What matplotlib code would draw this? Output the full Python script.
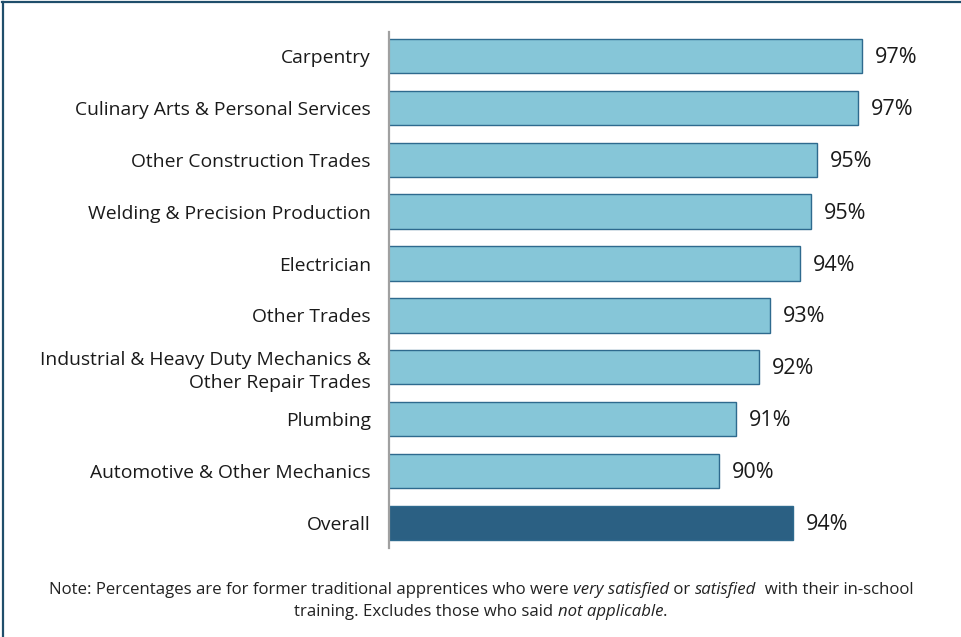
import matplotlib

matplotlib.use("Agg")

import matplotlib.pyplot as plt
from matplotlib.lines import Line2D

plt.rcParams["font.family"] = ["Open Sans", "DejaVu Sans"]

CATEGORIES = [
    "Carpentry",
    "Culinary Arts & Personal Services",
    "Other Construction Trades",
    "Welding & Precision Production",
    "Electrician",
    "Other Trades",
    "Industrial & Heavy Duty Mechanics &\nOther Repair Trades",
    "Plumbing",
    "Automotive & Other Mechanics",
    "Overall",
]
SATISFIED_PCT = [97.1, 96.9, 95.0, 94.7, 94.2, 92.8, 92.3, 91.2, 90.4, 93.9]
BAR_COLORS = ["#86C6D8"] * 9 + ["#2B6083"]

NOTE_LINES = [
    [
        ("Note: Percentages are for former traditional apprentices who were ", "normal"),
        ("very satisfied", "italic"),
        (" or ", "normal"),
        ("satisfied", "italic"),
        ("  with their in-school", "normal"),
    ],
    [
        ("training. Excludes those who said ", "normal"),
        ("not applicable", "italic"),
        (".", "normal"),
    ],
]


def draw_note(fig, lines, y_positions, fontsize=11):
    renderer = fig.canvas.get_renderer()
    fig_w = fig.bbox.width
    for pieces, y in zip(lines, y_positions):
        texts = []
        for txt, style in pieces:
            t = fig.text(0, y, txt, style=style, fontsize=fontsize,
                         color="#222222", va="center", ha="left")
            texts.append(t)
        widths = [t.get_window_extent(renderer).width / fig_w for t in texts]
        x = 0.5 - sum(widths) / 2
        for t, w in zip(texts, widths):
            t.set_x(x)
            x += w


def main():
    fig = plt.figure(figsize=(9.62, 6.37), dpi=100, facecolor="white")
    ax = fig.add_axes([389 / 962, 1 - 548 / 637, 573 / 962, 516 / 637])

    ypos = list(range(len(CATEGORIES)))
    ax.barh(ypos, SATISFIED_PCT, left=0, height=0.66, color=BAR_COLORS,
            edgecolor="#2E6A8E", linewidth=1.0)

    x0 = 75
    for y, v in zip(ypos, SATISFIED_PCT):
        ax.text(v + 0.6, y + 0.03, f"{v:.0f}%", va="center", ha="left",
                fontsize=15.5, color="#1a1a1a")

    ax.set_xlim(x0, x0 + 573 / 21.4)
    ax.set_ylim(9.48, -0.46)
    ax.set_yticks(ypos)
    ax.set_yticklabels(CATEGORIES, fontsize=13.9, color="#1a1a1a",
                       linespacing=1.3)
    ax.tick_params(axis="y", length=0, pad=13)
    ax.set_xticks([])
    for side in ["top", "right", "bottom"]:
        ax.spines[side].set_visible(False)
    ax.spines["left"].set_color("#A0A0A0")
    ax.spines["left"].set_linewidth(1.6)

    # thin frame along the top and left edges
    fig.add_artist(Line2D([0.002, 1.0], [0.997, 0.997], transform=fig.transFigure,
                          color="#1F4E6B", linewidth=1.6))
    fig.add_artist(Line2D([0.003, 0.003], [0.0, 0.997], transform=fig.transFigure,
                          color="#1F4E6B", linewidth=1.6))

    fig.canvas.draw()
    draw_note(fig, NOTE_LINES, [1 - 590 / 637, 1 - 612 / 637], fontsize=12.05)

    fig.savefig("out.png", dpi=100, facecolor="white")
    plt.close(fig)


if __name__ == "__main__":
    main()
